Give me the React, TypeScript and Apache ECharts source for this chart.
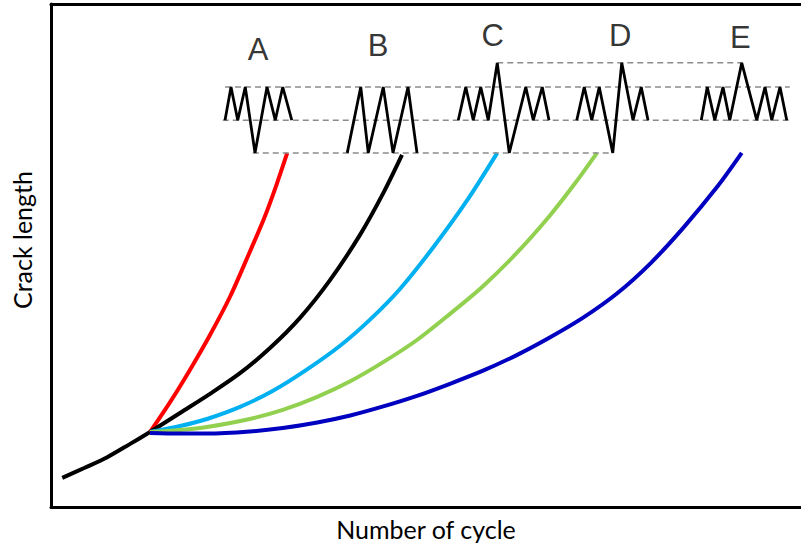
import React, { useEffect, useRef } from "react";
import * as echarts from "echarts";

// Crack growth curves (x: number of cycles, y: crack length, arbitrary units)
const baseCurve: [number, number][] = [
  [1.5, 5.8], [4.5, 7.8], [7.5, 9.9], [10.5, 12.5], [13.2, 14.9],
];
const curveA: [number, number][] = [
  [13.2, 14.9], [15.9, 20.9], [18.5, 27.2], [21.2, 34.2], [23.9, 41.9], [26.5, 50.7], [28.5, 57.7], [30.1, 64.2], [31.5, 70.4],
];
const curveB: [number, number][] = [
  [13.2, 14.9], [17.2, 18.7], [21.2, 22.5], [25.2, 26.6], [29.2, 31.6], [33.2, 37.6], [37.2, 45.1], [41.2, 54.1], [44.3, 62.4], [46.8, 70.0],
];
const curveC: [number, number][] = [
  [13.2, 14.9], [17.2, 16.1], [20.8, 17.5], [25.2, 19.9], [29.6, 23.1], [34.0, 27.2], [38.5, 32.0], [42.5, 37.2], [46.5, 43.3], [50.9, 51.5], [55.5, 61.0], [59.5, 70.4],
];
const curveD: [number, number][] = [
  [13.2, 14.9], [17.2, 15.3], [20.8, 15.9], [26.5, 17.5], [30.9, 19.3], [35.5, 21.9], [39.9, 25.0], [44.3, 28.8], [48.8, 33.2], [53.2, 38.4], [57.6, 43.9], [62.1, 50.5], [66.5, 57.9], [69.9, 64.4], [72.8, 70.4],
];
const curveE: [number, number][] = [
  [13.2, 14.7], [17.2, 14.6], [20.8, 14.6], [26.5, 15.0], [30.9, 15.7], [35.5, 16.8], [39.9, 18.2], [44.3, 20.0], [48.8, 22.1], [53.2, 24.5], [57.6, 27.1], [62.1, 30.2], [66.5, 33.7], [70.9, 37.6], [75.5, 42.5], [79.9, 48.4], [84.3, 55.5], [88.8, 63.6], [92.1, 70.4],
];
const curveColors = ["#ff0000", "#000000", "#00b0f0", "#92d050", "#0000c0"];

// Load levels of the spectra: minimum, mean, maximum, overload
const levels = [70.4, 76.9, 83.5, 88.3];

// Load spectrum blocks: turning-point positions and their level index
const specAX = [23.2, 24.0, 24.9, 25.9, 27.2, 28.8, 29.9, 30.9, 32.1];
const specALv = [1, 2, 1, 2, 0, 2, 1, 2, 1];
const specBX = [39.5, 41.3, 42.3, 44.3, 45.6, 47.6, 48.8];
const specBLv = [0, 2, 0, 2, 0, 2, 0];
const specCX = [54.3, 55.3, 56.3, 57.3, 58.3, 59.5, 61.1, 63.3, 64.3, 65.5, 66.4];
const specCLv = [1, 2, 1, 2, 1, 3, 0, 2, 1, 2, 1];
const specDX = [70.1, 71.1, 72.1, 73.1, 74.9, 76.1, 77.6, 78.7, 79.6];
const specDLv = [1, 2, 1, 2, 0, 3, 1, 2, 1];
const specEX = [86.7, 87.5, 88.5, 89.6, 90.5, 92.1, 94.1, 95.2, 96.1, 97.2, 98.1];
const specELv = [1, 2, 1, 2, 1, 3, 1, 2, 1, 2, 1];

// Dashed level guides: [from, to, level index]
const guides: [number, number, number][] = [
  [23.2, 98.5, 2],
  [22.9, 98.5, 1],
  [26.9, 74.8, 0],
  [59.5, 92.1, 3],
];

// Spectrum names and where they sit
const specNames = ["A", "B", "C", "D", "E"];
const specNameX = [27.6, 43.6, 58.9, 75.9, 91.9];
const specNameY = [90.9, 91.8, 93.8, 93.8, 93.4];

const toPoints = (xs: number[], lv: number[]): [number, number][] =>
  xs.map((x, i) => [x, levels[lv[i]]]);

export default function App() {
  const ref = useRef<HTMLDivElement>(null);

  useEffect(() => {
    if (!ref.current) return;
    const chart = echarts.init(ref.current, undefined, { renderer: "svg" });

    const curveSeries = [curveA, curveB, curveC, curveD, curveE].map((d, i) => ({
      type: "line",
      data: d,
      smooth: 0.3,
      showSymbol: false,
      lineStyle: { color: curveColors[i], width: 4 },
      z: 3,
    }));

    const specs = [
      toPoints(specAX, specALv),
      toPoints(specBX, specBLv),
      toPoints(specCX, specCLv),
      toPoints(specDX, specDLv),
      toPoints(specEX, specELv),
    ];
    const specSeries = specs.map((d) => ({
      type: "line",
      data: d,
      showSymbol: false,
      lineStyle: { color: "#000", width: 2.8, join: "miter" },
      z: 5,
    }));

    const guideSeries = guides.map(([a, b, l]) => ({
      type: "line",
      data: [[a, levels[l]], [b, levels[l]]],
      showSymbol: false,
      lineStyle: { color: "#8c8c8c", width: 1.5, type: [6, 4] },
      z: 4,
    }));

    chart.setOption({
      animation: false,
      backgroundColor: "#ffffff",
      grid: { left: 51, top: 4, right: 0, bottom: 39 },
      xAxis: [
        {
          type: "value",
          min: 0,
          max: 100,
          name: "Number of cycle",
          nameLocation: "middle",
          nameGap: 9,
          nameTextStyle: { fontFamily: "Lato", fontSize: 25, color: "#000" },
          axisLine: { show: true, lineStyle: { color: "#000", width: 3 } },
          axisTick: { show: false },
          axisLabel: { show: false },
          splitLine: { show: false },
        },
        {
          type: "value",
          position: "top",
          min: 0,
          max: 100,
          axisLine: { show: true, lineStyle: { color: "#000", width: 3 } },
          axisTick: { show: false },
          axisLabel: { show: false },
          splitLine: { show: false },
        },
      ],
      yAxis: {
        type: "value",
        min: 0,
        max: 100,
        axisLine: { show: true, lineStyle: { color: "#000", width: 3 } },
        axisTick: { show: false },
        axisLabel: { show: false },
        splitLine: { show: false },
      },
      graphic: [
        {
          type: "text",
          x: 22,
          y: 240,
          rotation: Math.PI / 2,
          style: {
            text: "Crack length",
            fontFamily: "Lato",
            fontSize: 25,
            fill: "#000",
            textAlign: "center",
            textVerticalAlign: "middle",
          },
        },
      ],
      series: [
        {
          type: "line",
          data: baseCurve,
          smooth: 0.3,
          showSymbol: false,
          lineStyle: { color: "#000", width: 4 },
          z: 3,
        },
        ...curveSeries,
        ...guideSeries,
        ...specSeries,
        {
          type: "scatter",
          data: specNames.map((n, i) => ({ name: n, value: [specNameX[i], specNameY[i]] })),
          symbolSize: 1,
          itemStyle: { color: "rgba(0,0,0,0)" },
          label: {
            show: true,
            position: "inside",
            formatter: "{b}",
            fontFamily: "Liberation Sans",
            fontSize: 31,
            color: "#000",
          },
          z: 6,
        },
      ],
    });

    return () => chart.dispose();
  }, []);

  return (
    <div
      ref={ref}
      style={{ position: "fixed", left: 0, top: 0, width: 801, height: 546, background: "#fff" }}
    />
  );
}
